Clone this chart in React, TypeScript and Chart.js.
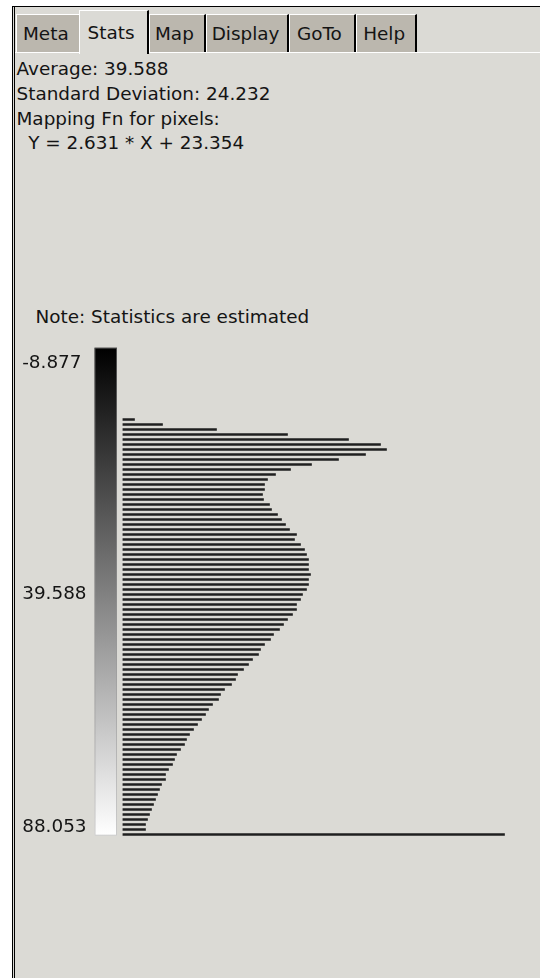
import React, { useEffect, useRef } from "react";
import { Chart, registerables } from "chart.js";

Chart.register(...registerables);

// ---------- data ----------
const tabNames = ["Meta", "Stats", "Map", "Display", "GoTo", "Help"];
const selectedTab = 1;

const statLines = [
  "Average: 39.588",
  "Standard Deviation: 24.232",
  "Mapping Fn for pixels:",
  "  Y = 2.631 * X + 23.354",
];
const noteText = "Note: Statistics are estimated";

const valueMin = -8.877;
const valueMax = 88.053;
const colorbarTicks = [-8.877, 39.588, 88.053];

// histogram counts per bin (top = lowest value); null = empty bin
const binCounts: (number | null)[] = [
  null, null, null, null, null, null, null, null, null, null, null, null, null, null,
  12, 40, 94, 165, 226, 258, 264, 243, 216, 189,
  168, 153, 145, 142, 142, 140, 141, 147, 149, 155,
  159, 163, 167, 174, 172, 178, 182, 184, 186, 186,
  186, 188, 186, 186, 184, 180, 178, 174, 174, 170,
  165, 161, 157, 151, 148, 142, 138, 136, 130, 126,
  121, 115, 113, 109, 102, 98, 96, 90, 86, 83,
  79, 75, 71, 67, 64, 62, 58, 54, 52, 50,
  46, 43, 43, 39, 37, 35, 33, 31, 29, 27,
  25, 23, 23, 382,
];
const binLabels = binCounts.map((_, i) => `bin ${i}`);
const countAxisMax = 400;

// ---------- style / layout ----------
const FONT = '"DejaVu Sans", Verdana, sans-serif';
const FONT_PX = 18.4;
const PANEL_BG = "#dbdad5";
const TAB_BG = "#bbb7ae";
const TEXT = "#141414";
const tabEdges = [15.5, 78.5, 149, 206, 289, 356, 417];
const tabTextX = [23, 87.6, 155, 211.7, 297, 363.2];

const colorbarPlugin = {
  id: "colorbar",
  afterDraw(chart: any) {
    const { ctx, chartArea } = chart;
    const top = chartArea.top;
    const bottom = chartArea.bottom;
    const pix = (v: number) => top + ((v - valueMin) / (valueMax - valueMin)) * (bottom - top);
    const x0 = chartArea.left - 28;
    const x1 = chartArea.left - 5.5;
    const gTop = pix(valueMin) + 0.7;
    const gBot = pix(valueMax) - 1.3;
    ctx.save();
    const g = ctx.createLinearGradient(0, gTop, 0, gBot);
    g.addColorStop(0, "#000000");
    g.addColorStop(1, "#ffffff");
    ctx.fillStyle = g;
    ctx.fillRect(x0, gTop, x1 - x0, gBot - gTop);
    ctx.strokeStyle = "rgba(150,150,150,0.5)";
    ctx.lineWidth = 1;
    ctx.strokeRect(x0 + 0.5, gTop + 0.5, x1 - x0 - 1, gBot - gTop - 1);
    ctx.font = `${FONT_PX}px ${FONT}`;
    ctx.fillStyle = TEXT;
    ctx.textAlign = "left";
    ctx.textBaseline = "alphabetic";
    colorbarTicks.forEach((v) => {
      let y = pix(v) + 6.6;
      y = Math.min(Math.max(y, gTop + 20.6), gBot - 3.4);
      ctx.fillText(v.toFixed(3), 22.2, y);
    });
    ctx.restore();
  },
};

function Histogram() {
  const ref = useRef<HTMLCanvasElement | null>(null);
  useEffect(() => {
    if (!ref.current) return;
    const chart = new Chart(ref.current, {
      type: "bar",
      data: {
        labels: binLabels,
        datasets: [
          {
            data: binCounts,
            backgroundColor: "#1f1f1f",
            borderWidth: 0,
            barThickness: 2,
          },
        ],
      },
      options: {
        indexAxis: "y",
        animation: false,
        responsive: false,
        devicePixelRatio: 1,
        layout: { padding: { left: 122.5, right: 17.5, top: 17, bottom: 13 } },
        scales: {
          x: { type: "linear", display: false, min: 0, max: countAxisMax, grid: { display: false } },
          y: { type: "category", display: false, offset: true, grid: { display: false } },
        },
        plugins: { legend: { display: false }, tooltip: { enabled: false } },
      } as any,
      plugins: [colorbarPlugin],
    });
    return () => chart.destroy();
  }, []);
  return (
    <canvas
      ref={ref}
      width={540}
      height={520}
      style={{ position: "absolute", left: 0, top: 330, width: 540, height: 520 }}
    />
  );
}

export default function App() {
  return (
    <div
      style={{
        position: "fixed",
        left: 0,
        top: 0,
        width: 540,
        height: 978,
        background: "#ffffff",
        overflow: "hidden",
        fontFamily: FONT,
        fontSize: FONT_PX,
        color: TEXT,
      }}
    >
      <div
        style={{
          position: "absolute",
          left: 12,
          top: 6,
          width: 540,
          height: 990,
          background: PANEL_BG,
          borderTop: "1px solid #000",
          borderLeft: "3px double #000",
        }}
      />
      <div style={{ position: "absolute", left: 15, top: 52, width: 530, height: 1, background: "#ffffff" }} />
      {tabNames.map((name, i) => {
        const sel = i === selectedTab;
        const left = tabEdges[i];
        const width = tabEdges[i + 1] - tabEdges[i];
        const top = sel ? 10 : 14;
        const height = sel ? 44 : 38;
        return (
          <div
            key={name}
            style={{
              position: "absolute",
              left,
              top,
              width,
              height,
              boxSizing: "border-box",
              background: sel ? PANEL_BG : TAB_BG,
              borderTop: "1px solid #ffffff",
              borderLeft: "1px solid #ffffff",
              borderRight: i === 0 ? "none" : "2px solid #000",
              zIndex: sel ? 2 : 1,
            }}
          />
        );
      })}
      {tabNames.map((name, i) => {
        const sel = i === selectedTab;
        const baseline = sel ? 40 : 41;
        return (
          <div
            key={"t" + name}
            style={{
              position: "absolute",
              left: tabTextX[i],
              top: baseline - 18.9,
              lineHeight: "24.8px",
              whiteSpace: "pre",
              zIndex: 3,
            }}
          >
            {name}
          </div>
        );
      })}
      <div
        style={{
          position: "absolute",
          left: 16.5,
          top: 57.1,
          lineHeight: "24.8px",
          whiteSpace: "pre",
        }}
      >
        {statLines.map((l) => (
          <div key={l}>{l}</div>
        ))}
      </div>
      <div
        style={{
          position: "absolute",
          left: 35.5,
          top: 305.4,
          lineHeight: "24.8px",
          whiteSpace: "pre",
        }}
      >
        {noteText}
      </div>
      <Histogram />
    </div>
  );
}
